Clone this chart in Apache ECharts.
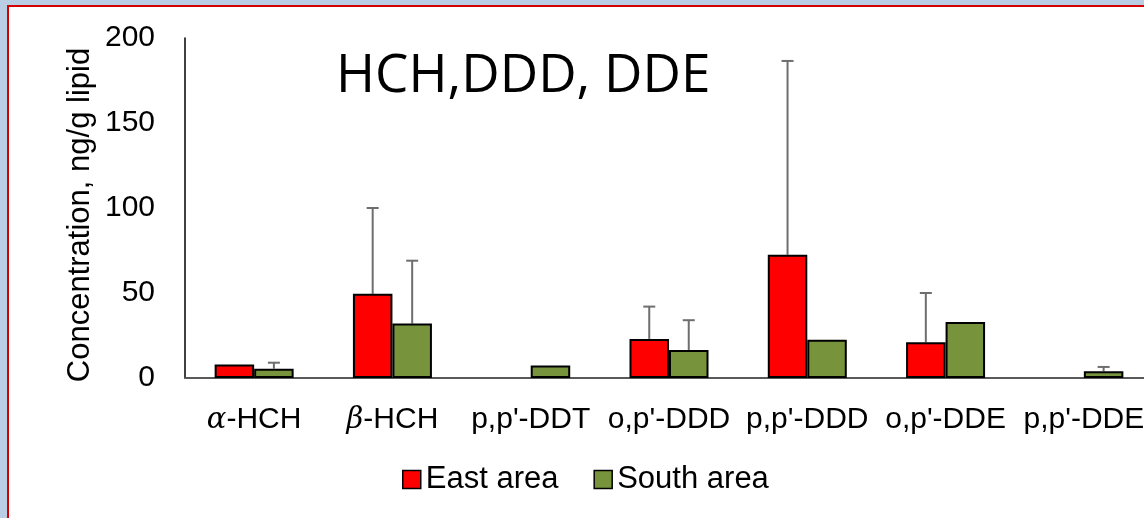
<!DOCTYPE html>
<html>
<head>
<meta charset="utf-8">
<script src="https://cdn.jsdelivr.net/npm/echarts@6/dist/echarts.min.js"></script>
<style>
  html, body { margin: 0; padding: 0; background: #b9cde5; overflow: hidden; }
  #frame { position: absolute; left: 7px; top: 5px; width: 1200px; height: 600px;
           background: #ffffff; border-left: 2px solid #d40000; border-top: 2px solid #d40000; }
  #chart { position: absolute; left: 0; top: 0; width: 1144px; height: 518px; }
</style>
</head>
<body>
<div id="frame"></div>
<div id="chart"></div>
<script>
// ---- data ----
const categories = ["α-HCH", "β-HCH", "p,p'-DDT", "o,p'-DDD", "p,p'-DDD", "o,p'-DDE", "p,p'-DDE"];
const eastValues = [8, 49.5, null, 23, 72.5, 21, null];
const southValues = [5.5, 32, 7.4, 16.5, 22.5, 33, 4];
const eastErr = [null, 50.5, null, 19, 114, 29, null];
const southErr = [3.5, 37, null, 17.5, null, null, 2.5];
const yTicks = [0, 50, 100, 150, 200];
const seriesNames = ["East area", "South area"];

const FONT = "'Liberation Sans', Arial, sans-serif";
const chart = echarts.init(document.getElementById('chart'), null, { renderer: 'canvas' });

function errSeries(values, errs, idx) {
  const data = values.map((v, i) => [i, v, errs[i]]);
  return {
    type: 'custom',
    name: seriesNames[idx] + ' err',
    z: 1,
    silent: true,
    clip: false,
    renderItem: function (params, api) {
      const i = api.value(0), v = api.value(1), e = api.value(2);
      if (v == null || e == null || isNaN(e) || isNaN(v)) return;
      const base = api.coord([i, v]);
      const top = api.coord([i, v + e]);
      const barW = 39.5;
      const x = base[0] + (idx === 0 ? -barW / 2 : barW / 2);
      const cap = 6;
      const st = { stroke: '#6e6e6e', lineWidth: 2 };
      return {
        type: 'group',
        children: [
          { type: 'line', shape: { x1: x, y1: base[1], x2: x, y2: top[1] }, style: st },
          { type: 'line', shape: { x1: x - cap, y1: top[1], x2: x + cap, y2: top[1] }, style: st }
        ]
      };
    },
    encode: { x: 0, y: 1 },
    data: data
  };
}

const option = {
  animation: false,
  backgroundColor: 'transparent',
  grid: { left: 185, width: 968, top: 38, height: 340, containLabel: false, outerBoundsMode: 'none' },
  legend: {
    data: seriesNames,
    left: 402, top: 464, padding: 0,
    itemWidth: 18, itemHeight: 18, itemGap: 35,
    icon: 'rect',
    textStyle: { fontFamily: FONT, fontSize: 31, color: '#000' },
    itemStyle: { borderColor: '#000', borderWidth: 1.5 }
  },
  xAxis: {
    type: 'category',
    data: categories,
    axisLine: { lineStyle: { color: '#595959', width: 2 } },
    axisTick: { show: false },
    axisLabel: {
      margin: 27,
      fontFamily: FONT, fontSize: 30, color: '#000',
      interval: 0,
      hideOverlap: false,
      formatter: function (v) {
        if (v.charAt(0) === 'α' || v.charAt(0) === 'β') return '{it|' + v.charAt(0) + '}' + v.slice(1);
        return v;
      },
      rich: { it: { fontFamily: "'DejaVu Serif', serif", fontStyle: 'italic', fontSize: 29, color: '#000' } }
    }
  },
  yAxis: {
    type: 'value',
    min: 0, max: 200, interval: 50,
    axisLine: { show: true, lineStyle: { color: '#000', width: 1.5 } },
    axisTick: { show: false },
    splitLine: { show: false },
    axisLabel: { margin: 30, fontFamily: FONT, fontSize: 30, color: '#000',
      formatter: function (v) { return yTicks.indexOf(v) >= 0 ? String(v) : ''; } }
  },
  graphic: [
    {
      type: 'text', left: 336, top: 50,
      style: { text: 'HCH,DDD, DDE', fontFamily: "'Open Sans', sans-serif", fontSize: 53, fill: '#000' }
    },
    {
      type: 'text', x: 80, y: 215, rotation: Math.PI / 2,
      style: { text: 'Concentration, ng/g lipid', fontFamily: FONT, fontSize: 31, fill: '#000',
               align: 'center', verticalAlign: 'middle' }
    }
  ],
  series: [
    {
      name: seriesNames[0], type: 'bar', data: eastValues,
      barWidth: 39.5, barGap: '0%', z: 2,
      itemStyle: { color: '#ff0000', borderColor: '#000', borderWidth: 2 }
    },
    {
      name: seriesNames[1], type: 'bar', data: southValues,
      barWidth: 39.5, barGap: '0%', z: 2,
      itemStyle: { color: '#77933c', borderColor: '#000', borderWidth: 2 }
    },
    errSeries(eastValues, eastErr, 0),
    errSeries(southValues, southErr, 1)
  ]
};
chart.setOption(option);
</script>
</body>
</html>
